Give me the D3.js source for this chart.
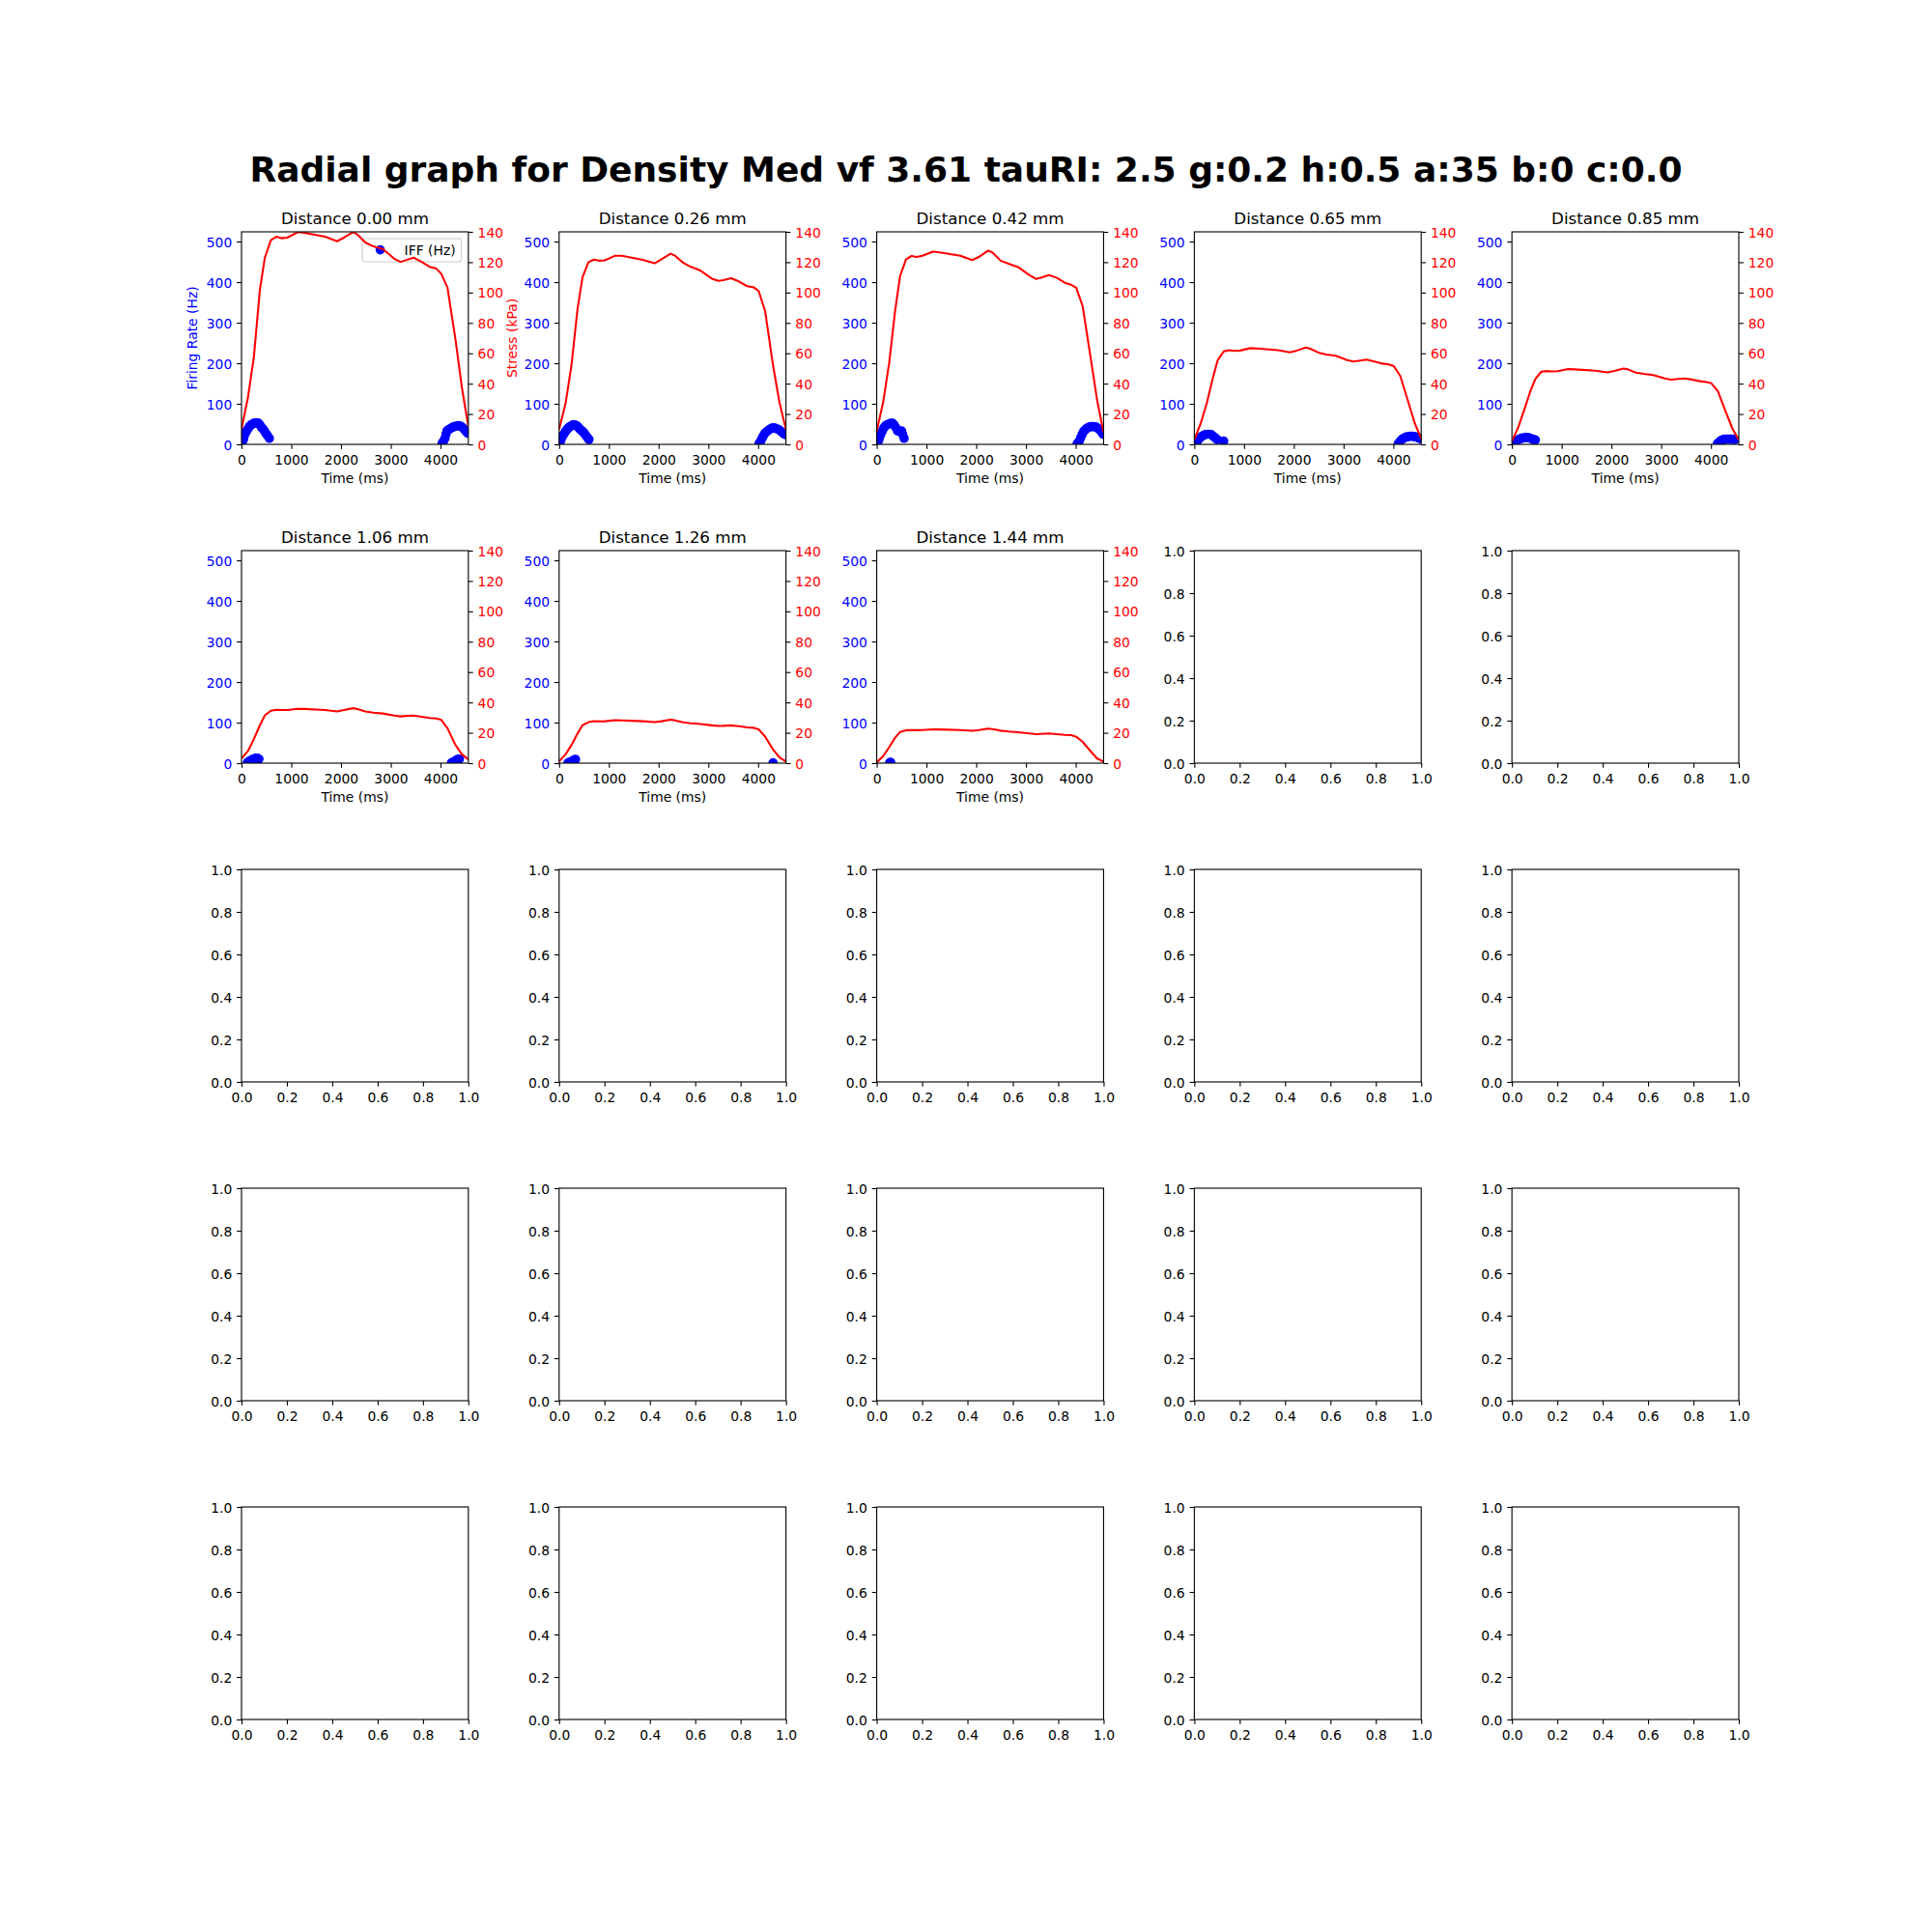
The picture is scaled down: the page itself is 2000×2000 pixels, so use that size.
<!DOCTYPE html>
<html><head><meta charset="utf-8">
<script src="https://cdn.jsdelivr.net/npm/d3@7"></script>
<style>body{margin:0;background:#fff} text{font-family:"DejaVu Sans",sans-serif}</style>
</head><body>
<svg id="chart" width="2000" height="2000"></svg>
<script>
// ---------------- DATA ----------------
const figTitle = "Radial graph for Density Med vf 3.61 tauRI: 2.5 g:0.2 h:0.5 a:35 b:0 c:0.0";
const distances = ["0.00", "0.26", "0.42", "0.65", "0.85", "1.06", "1.26", "1.44"];
const timeTicks = [0, 1000, 2000, 3000, 4000];
const iffTicks = [0, 100, 200, 300, 400, 500];
const stressTicks = [0, 20, 40, 60, 80, 100, 120, 140];
const emptyTicks = [0, 0.2, 0.4, 0.6, 0.8, 1.0];

const stressTime = [0, 130, 250, 370, 470, 590, 700, 800, 920, 1130, 1260, 1680, 1920, 2060, 2240, 2330, 2490, 2650, 2840, 3070, 3200, 3300, 3460, 3620, 3780, 3910, 4010, 4140, 4300, 4430, 4558];
const stress000 = [10, 31, 58, 102, 123, 134.5, 136.8, 135.8, 136.2, 139.8, 139.4, 136.8, 133.8, 136.2, 139.8, 138.3, 133, 130.4, 128.7, 122.3, 120.2, 121.3, 123, 120.2, 117, 115.9, 112.7, 103.3, 69.3, 37.4, 12];
const stress026 = [9.8, 27, 52.5, 89, 110, 120, 121.7, 121, 121.2, 124.3, 124.2, 121.6, 119.3, 122, 125.6, 124.3, 119.7, 116.9, 114.5, 109.2, 107.7, 108.2, 109.5, 107.2, 104.2, 103.5, 101, 88, 52, 27.5, 9.8];
const stress042 = [8.7, 27.8, 53.5, 88, 111, 122, 124.1, 123.5, 124.2, 127, 126.5, 124.3, 121.4, 123.6, 127.7, 126.3, 121, 119, 116.8, 111.5, 109, 109.8, 111.5, 109.7, 106.5, 105.1, 103.2, 91, 57, 29, 8.3];
const stress065 = [3.2, 14, 27, 43.5, 55.5, 61.2, 62, 61.6, 61.8, 63.4, 63.2, 62, 60.6, 61.8, 63.8, 63, 60.5, 59.2, 58.4, 55.5, 54.6, 55, 55.8, 54.6, 53.2, 52.6, 51.5, 45, 28, 14, 4];
const stress085 = [2.1, 11.5, 23, 35, 43, 47.9, 48.3, 48, 48.2, 49.6, 49.4, 48.5, 47.4, 48.4, 50, 49.4, 47.3, 46.4, 45.6, 43.4, 42.6, 42.9, 43.4, 42.7, 41.6, 41.1, 40.2, 35, 21.3, 10.5, 3];
const stress106 = [3.2, 8, 16, 25, 31.5, 34.5, 35.1, 35, 35, 35.8, 35.7, 35, 34.1, 35, 36.2, 35.6, 34, 33.3, 32.7, 31.4, 30.8, 31.1, 31.3, 30.6, 29.8, 29.4, 28.7, 23, 12, 5.8, 2.5];
const stress126 = [1.2, 5.8, 12, 19.5, 25, 27, 27.7, 27.5, 27.6, 28.3, 28.2, 27.6, 27, 27.6, 28.7, 28.2, 26.9, 26.3, 25.8, 24.9, 24.5, 24.6, 24.9, 24.3, 23.6, 23.3, 22.3, 17.5, 9, 3.8, 1.1];
const stress144 = [0.5, 4.6, 10.5, 16.8, 20.6, 21.7, 21.8, 21.7, 21.8, 22.3, 22.2, 21.8, 21.3, 21.8, 22.8, 22.4, 21.4, 20.8, 20.4, 19.6, 19.1, 19.3, 19.6, 19.1, 18.6, 18.4, 17.4, 14, 7.8, 3, 1];

const iffT000 = [10, 40, 55, 70, 85, 100, 130, 160, 190, 220, 250, 280, 310, 340, 370, 400, 430, 460, 490, 520, 560, 4030, 4060, 4090, 4110, 4130, 4160, 4200, 4240, 4280, 4320, 4360, 4400, 4440, 4470, 4500, 4530, 4550];
const iffV000 = [2, 12, 20, 27, 30, 32, 38, 44, 48, 50, 52, 53, 53, 52, 48, 42, 38, 33, 27, 22, 15, 2, 8, 15, 25, 33, 36, 39, 42, 44, 45, 46, 45, 42, 38, 34, 30, 27];
const iffT026 = [10, 35, 55, 75, 100, 130, 160, 190, 220, 250, 280, 310, 340, 370, 400, 430, 460, 490, 520, 550, 580, 600, 4020, 4050, 4080, 4110, 4140, 4180, 4220, 4260, 4300, 4340, 4380, 4420, 4460, 4500, 4540];
const iffV026 = [2, 10, 17, 22, 26, 32, 37, 41, 44, 46, 48, 48, 47, 44, 40, 36, 33, 30, 25, 20, 15, 12, 2, 8, 15, 22, 28, 32, 36, 39, 41, 40, 38, 36, 32, 28, 24];
const iffT042 = [20, 45, 65, 80, 110, 140, 170, 200, 240, 280, 320, 350, 380, 420, 460, 500, 520, 550, 4030, 4070, 4100, 4130, 4160, 4200, 4240, 4280, 4320, 4360, 4400, 4440, 4480, 4520, 4550];
const iffV042 = [2, 12, 20, 25, 32, 40, 45, 48, 50, 52, 52, 48, 42, 33, 32, 33, 25, 15, 2, 8, 16, 25, 32, 37, 41, 43, 44, 44, 43, 40, 36, 30, 25];
const iffT065 = [20, 60, 100, 140, 180, 220, 260, 300, 340, 380, 420, 460, 590, 4100, 4140, 4180, 4220, 4260, 4300, 4340, 4380, 4420, 4460, 4500, 4540];
const iffV065 = [2, 8, 14, 19, 22, 24, 25, 25, 24, 20, 16, 12, 8, 2, 8, 13, 16, 18, 19, 20, 20, 19, 18, 16, 14];
const iffT085 = [30, 70, 110, 150, 190, 230, 270, 310, 350, 390, 430, 470, 4130, 4170, 4210, 4250, 4290, 4330, 4370, 4410, 4450, 4480];
const iffV085 = [2, 6, 10, 13, 15, 16, 17, 17, 16, 14, 12, 11, 2, 6, 10, 12, 13, 13, 13, 13, 13, 12];
const iffT106 = [120, 160, 200, 240, 280, 320, 350, 4220, 4260, 4300, 4340, 4380];
const iffV106 = [2, 5, 8, 10, 12, 12, 10, 1, 3, 6, 9, 10];
const iffT126 = [180, 220, 260, 300, 330, 4300];
const iffV126 = [1, 3, 5, 8, 9, 1];
const iffT144 = [260, 280];
const iffV144 = [1, 2];

const stressSeries = [stress000, stress026, stress042, stress065, stress085, stress106, stress126, stress144];
const iffTimes = [iffT000, iffT026, iffT042, iffT065, iffT085, iffT106, iffT126, iffT144];
const iffValues = [iffV000, iffV026, iffV042, iffV065, iffV085, iffV106, iffV126, iffV144];

// ---------------- LAYOUT ----------------
const W = 2000, H = 2000;
const nRows = 5, nCols = 5;
const figL = 250, figT = 240, axW = 234.85, axH = 220, colStep = 328.79, rowStep = 330;
const fsTick = 13.89, fsTitle = 16.67;
const tickLen = 4.86, tickPad = 4.86;
const BLUE = "#0000ff", RED = "#ff0000";

const svg = d3.select("#chart");
svg.append("rect").attr("width", W).attr("height", H).attr("fill", "#fff");

svg.append("text").attr("x", 1000).attr("y", 188).attr("text-anchor", "middle")
  .attr("font-size", 36).attr("font-weight", "bold").text(figTitle);

const defs = svg.append("defs");

function styleAxis(g, color) {
  g.select(".domain").remove();
  g.selectAll(".tick line").attr("stroke", "#000").attr("stroke-width", 1.11);
  g.selectAll(".tick text").attr("fill", color).attr("font-size", fsTick)
    .attr("font-family", "DejaVu Sans");
}

for (let idx = 0; idx < nRows * nCols; idx++) {
  const r = Math.floor(idx / nCols), c = idx % nCols;
  const x0 = figL + c * colStep, y0 = figT + r * rowStep;
  const g = svg.append("g").attr("transform", `translate(${x0},${y0})`);
  const clipId = "clip" + idx;
  defs.append("clipPath").attr("id", clipId).append("rect")
    .attr("x", 0).attr("y", 0).attr("width", axW).attr("height", axH);

  if (idx < distances.length) {
    const x = d3.scaleLinear().domain([0, 4560]).range([0, axW]);
    const yL = d3.scaleLinear().domain([0, 524]).range([axH, 0]);
    const yR = d3.scaleLinear().domain([0, 140]).range([axH, 0]);

    // ax1: scatter
    const pts = iffTimes[idx].map((t, i) => ({ t, v: iffValues[idx][i] }));
    g.append("g").attr("clip-path", `url(#${clipId})`).selectAll("circle").data(pts).join("circle")
      .attr("cx", d => x(d.t)).attr("cy", d => yL(d.v)).attr("r", 4.17)
      .attr("fill", BLUE).attr("stroke", BLUE).attr("stroke-width", 1.39);

    const gx = g.append("g").attr("transform", `translate(0,${axH})`)
      .call(d3.axisBottom(x).tickValues(timeTicks).tickFormat(d3.format("d")).tickSize(tickLen).tickPadding(tickPad));
    styleAxis(gx, "#000");
    gx.selectAll(".tick text").attr("y", 9.72).attr("dy", "0.84em");

    const gl = g.append("g").call(d3.axisLeft(yL).tickValues(iffTicks).tickFormat(d3.format("d")).tickSize(tickLen).tickPadding(tickPad));
    styleAxis(gl, BLUE);
    gl.selectAll(".tick text").attr("dy", "0.36em");

    g.append("text").attr("x", axW / 2).attr("y", axH + 40.4).attr("text-anchor", "middle")
      .attr("font-size", fsTick).attr("fill", "#000").text("Time (ms)");

    if (idx === 0) {
      g.append("text").attr("transform", `translate(${-46},${axH / 2}) rotate(-90)`)
        .attr("text-anchor", "middle").attr("font-size", fsTick).attr("fill", BLUE).text("Firing Rate (Hz)");
      // legend
      const lg = g.append("g").attr("transform", "translate(125,7)");
      lg.append("rect").attr("x", 0).attr("y", 0).attr("width", 102.6).attr("height", 24)
        .attr("rx", 2.8).attr("fill", "#fff").attr("fill-opacity", 0.8)
        .attr("stroke", "#cccccc").attr("stroke-width", 1.11);
      lg.append("circle").attr("cx", 18.6).attr("cy", 11.6).attr("r", 4.17)
        .attr("fill", BLUE).attr("stroke", BLUE).attr("stroke-width", 1.39);
      lg.append("text").attr("x", 43.6).attr("y", 16.6).attr("font-size", fsTick).attr("fill", "#000").text("IFF (Hz)");
    }

    // ax2: stress line
    const line = d3.line().x((d, i) => x(stressTime[i])).y(d => yR(d));
    g.append("path").attr("clip-path", `url(#${clipId})`).datum(stressSeries[idx])
      .attr("d", line).attr("fill", "none").attr("stroke", RED).attr("stroke-width", 2.08)
      .attr("stroke-linejoin", "round");

    const gr = g.append("g").attr("transform", `translate(${axW},0)`)
      .call(d3.axisRight(yR).tickValues(stressTicks).tickFormat(d3.format("d")).tickSize(tickLen).tickPadding(tickPad));
    styleAxis(gr, RED);
    gr.selectAll(".tick text").attr("dy", "0.36em");

    if (idx === 0) {
      g.append("text").attr("transform", `translate(${axW + 50.5},${axH / 2}) rotate(-90)`)
        .attr("text-anchor", "middle").attr("font-size", fsTick).attr("fill", RED).text("Stress (kPa)");
    }

    g.append("text").attr("x", axW / 2).attr("y", -8.33).attr("text-anchor", "middle")
      .attr("font-size", fsTitle).attr("fill", "#000").text(`Distance ${distances[idx]} mm`);
  } else {
    const x = d3.scaleLinear().domain([0, 1]).range([0, axW]);
    const y = d3.scaleLinear().domain([0, 1]).range([axH, 0]);
    const gx = g.append("g").attr("transform", `translate(0,${axH})`)
      .call(d3.axisBottom(x).tickValues(emptyTicks).tickFormat(d3.format(".1f")).tickSize(tickLen).tickPadding(tickPad));
    styleAxis(gx, "#000");
    gx.selectAll(".tick text").attr("y", 9.72).attr("dy", "0.84em");
    const gy = g.append("g")
      .call(d3.axisLeft(y).tickValues(emptyTicks).tickFormat(d3.format(".1f")).tickSize(tickLen).tickPadding(tickPad));
    styleAxis(gy, "#000");
    gy.selectAll(".tick text").attr("dy", "0.36em");
  }

  g.append("rect").attr("x", 0).attr("y", 0).attr("width", axW).attr("height", axH)
    .attr("fill", "none").attr("stroke", "#000").attr("stroke-width", 1.11);
}
</script>
</body></html>
